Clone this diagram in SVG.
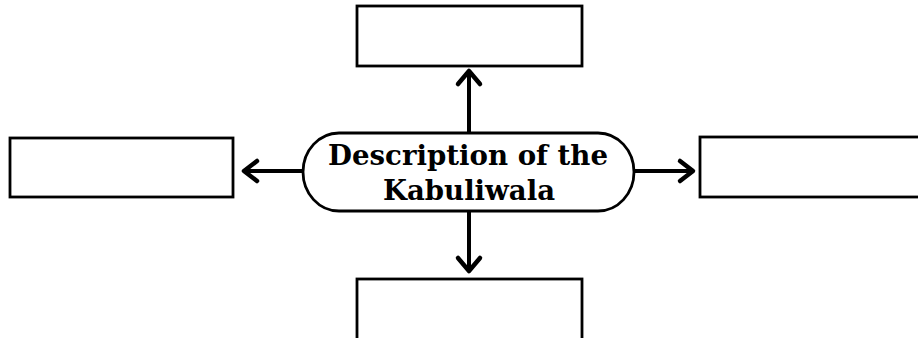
<svg xmlns="http://www.w3.org/2000/svg" width="918" height="338" viewBox="0 0 918 338">
<style>
.box{fill:#fff;stroke:#000;stroke-width:2.8}
.conn{stroke:#000;stroke-width:4;fill:none}
.head{stroke:#000;stroke-width:4.5;fill:none;stroke-linecap:round;stroke-linejoin:round}
.lbl{font-family:"DejaVu Serif","Liberation Serif",serif;font-weight:bold;font-size:28px;fill:#000;text-anchor:middle}
</style>
<rect width="918" height="338" fill="#fff"/>
<g id="connectors">
<line class="conn" x1="469" y1="133" x2="469" y2="72"/>
<polyline class="head" points="458,84 469,71 480,84"/>
<line class="conn" x1="469" y1="211" x2="469" y2="270"/>
<polyline class="head" points="458,258 469,271 480,258"/>
<line class="conn" x1="303" y1="171" x2="245" y2="171"/>
<polyline class="head" points="257,161 244,171 257,181"/>
<line class="conn" x1="634" y1="171" x2="692" y2="171"/>
<polyline class="head" points="680,161 693,171 680,181"/>
</g>
<g id="top"><rect class="box" x="357" y="6" width="225" height="60"/></g>
<g id="left"><rect class="box" x="10" y="138" width="223" height="59"/></g>
<g id="right"><rect class="box" x="700" y="137" width="230" height="60"/></g>
<g id="bottom"><rect class="box" x="357" y="279" width="225" height="70"/></g>
<g id="center">
<rect class="box" x="303" y="133" width="331" height="78" rx="36" ry="39"/>
<text class="lbl" x="468" y="165" textLength="280" lengthAdjust="spacingAndGlyphs">Description of the</text>
<text class="lbl" x="469" y="200" textLength="172" lengthAdjust="spacingAndGlyphs">Kabuliwala</text>
</g>
</svg>
